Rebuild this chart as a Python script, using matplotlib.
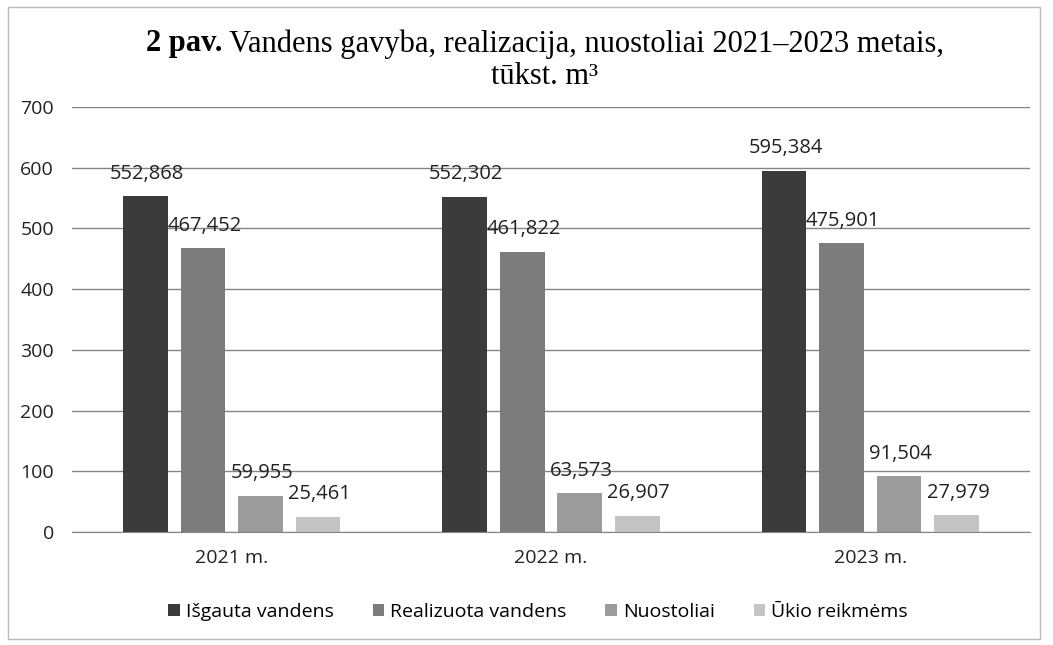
import numpy as np
import matplotlib.pyplot as plt
from matplotlib.patches import Rectangle

years = ["2021 m.", "2022 m.", "2023 m."]
series = ["Išgauta vandens", "Realizuota vandens", "Nuostoliai", "Ūkio reikmėms"]
extracted = [552.868, 552.302, 595.384]
sold = [467.452, 461.822, 475.901]
losses = [59.955, 63.573, 91.504]
own_needs = [25.461, 26.907, 27.979]
colors = ["#3b3b3b", "#7c7c7c", "#9b9b9b", "#c4c4c4"]

plt.rcParams["font.family"] = ["Open Sans", "DejaVu Sans"]

fig = plt.figure(figsize=(10.53, 6.45), dpi=100)
ax = fig.add_axes([72 / 1053, 1 - 532 / 645, 958 / 1053, 425 / 645])

x = np.arange(len(years))
width = 0.14
step = 0.18
for i, (name, vals, c) in enumerate(zip(series, [extracted, sold, losses, own_needs], colors)):
    pos = x + (i - 1.5) * step
    ax.bar(pos, vals, width, color=c, label=name, zorder=2)
    for p, v in zip(pos, vals):
        ax.annotate(f"{v:.3f}".replace(".", ","), (p, v), xytext=(1, 16),
                    textcoords="offset points", ha="center", va="center",
                    fontsize=14.5, color="#222222", zorder=3)

ax.set_xlim(-0.5, 2.5)
ax.set_ylim(0, 700)
ax.set_yticks(np.arange(0, 701, 100))
ax.set_xticks(x, years)
ax.grid(axis="y", color="#858585", linewidth=1, zorder=0)
for s in ["top", "right", "left"]:
    ax.spines[s].set_visible(False)
ax.spines["bottom"].set_color("#858585")
ax.tick_params(length=0, labelsize=14, colors="#222222")
ax.tick_params(axis="y", pad=13)
ax.tick_params(axis="x", pad=12)

ax.legend(loc="center", bbox_to_anchor=(538 / 1053, 1 - 612 / 645), bbox_transform=fig.transFigure,
          ncol=4, frameon=False, fontsize=14, handlelength=0.6, handleheight=0.6,
          handletextpad=0.3, columnspacing=2.0)

# title: bold "2 pav." followed by regular text
fig.canvas.draw()
r = fig.canvas.get_renderer()
bold = fig.text(0, 0, "2 pav.", family="Liberation Serif", fontsize=22, fontweight="bold")
rest = fig.text(0, 0, " Vandens gavyba, realizacija, nuostoliai 2021–2023 metais,",
                family="Liberation Serif", fontsize=22)
wb = bold.get_window_extent(r).width
wr = rest.get_window_extent(r).width
x0 = 545 - (wb + wr) / 2
y1 = 1 - 44 / 645
bold.set_position((x0 / 1053, y1))
rest.set_position(((x0 + wb) / 1053, y1))
bold.set_va("center")
rest.set_va("center")
fig.text(545 / 1053, 1 - 76 / 645, "tūkst. m³", family="Liberation Serif", fontsize=22,
         ha="center", va="center")

fig.patches.append(Rectangle((8 / 1053, 6 / 645), 1032 / 1053, 632 / 645, transform=fig.transFigure,
                             fill=False, edgecolor="#bbbbbb", linewidth=1))

fig.savefig("out.png", dpi=100)
